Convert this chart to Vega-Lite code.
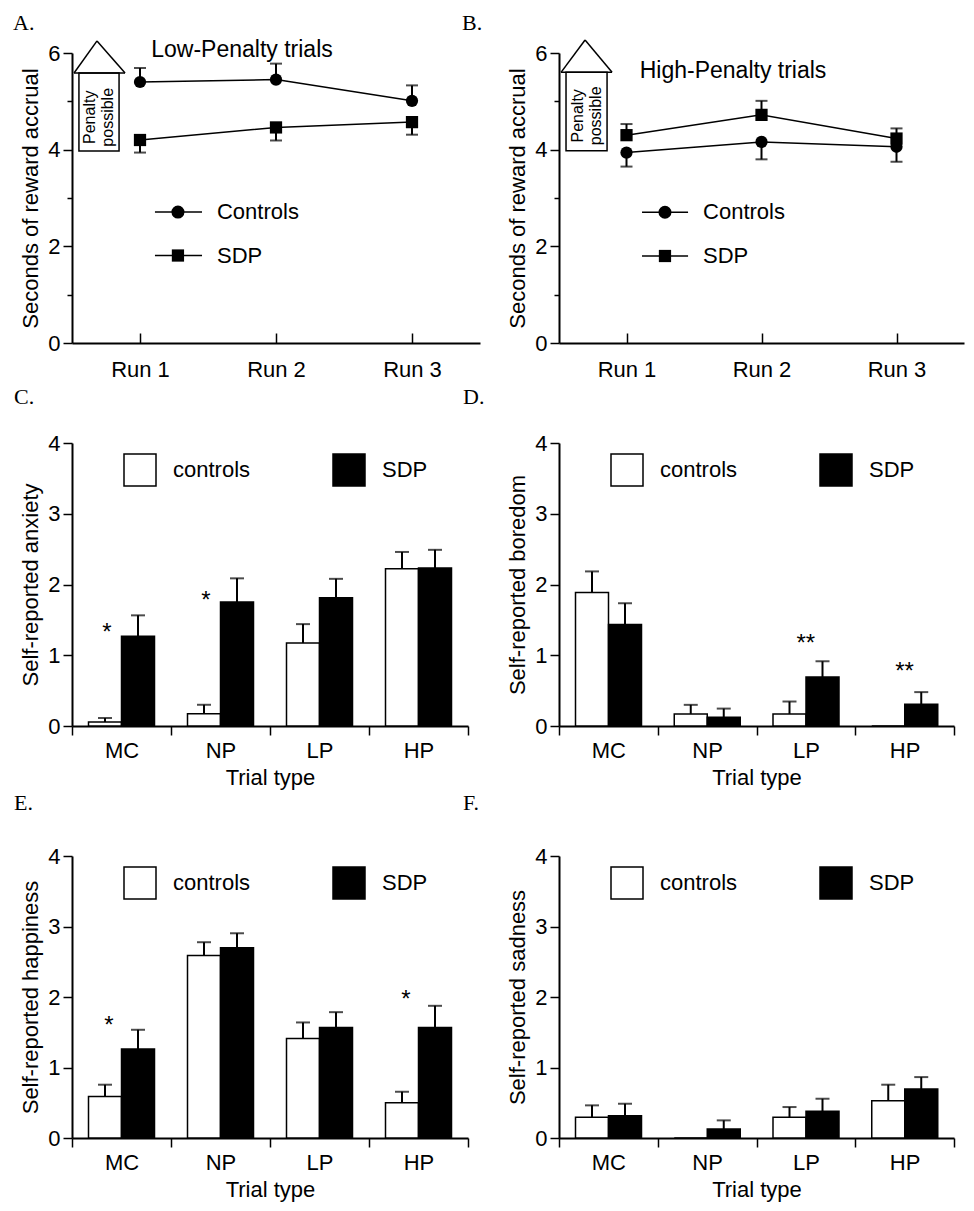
{
  "$schema": "https://vega.github.io/schema/vega-lite/v6.json",
  "padding": {"left": 13, "top": 12, "right": 5, "bottom": 5},
  "columns": 2,
  "spacing": {"row": 100, "column": 79},
  "bounds": "flush",
  "resolve": {"scale": {"fill": "independent"}, "legend": {"fill": "independent"}},
  "config": {
    "view": {"stroke": null},
    "font": "Liberation Sans",
    "axis": {"domainColor": "black", "domainWidth": 2, "tickColor": "black", "tickWidth": 1.5, "labelFont": "Liberation Sans", "labelFontSize": 22, "labelColor": "black", "titleFont": "Liberation Sans", "titleFontSize": 22, "titleFontWeight": "normal", "titleColor": "black", "grid": false, "labelPadding": 3, "titlePadding": 5},
    "title": {"font": "Liberation Serif", "fontSize": 22, "fontWeight": "normal", "color": "black", "anchor": "start", "frame": "group"},
    "text": {"font": "Liberation Sans", "color": "black"}
  },
  "datasets": {
    "runs": [
      {"panel": "A", "group": "Controls", "run": 1, "mean": 5.40, "err": 5.69},
      {"panel": "A", "group": "Controls", "run": 2, "mean": 5.45, "err": 5.78},
      {"panel": "A", "group": "Controls", "run": 3, "mean": 5.01, "err": 5.33},
      {"panel": "A", "group": "SDP", "run": 1, "mean": 4.20, "err": 3.94},
      {"panel": "A", "group": "SDP", "run": 2, "mean": 4.46, "err": 4.19},
      {"panel": "A", "group": "SDP", "run": 3, "mean": 4.57, "err": 4.31},
      {"panel": "B", "group": "Controls", "run": 1, "mean": 3.94, "err": 3.65},
      {"panel": "B", "group": "Controls", "run": 2, "mean": 4.16, "err": 3.80},
      {"panel": "B", "group": "Controls", "run": 3, "mean": 4.06, "err": 3.75},
      {"panel": "B", "group": "SDP", "run": 1, "mean": 4.30, "err": 4.53},
      {"panel": "B", "group": "SDP", "run": 2, "mean": 4.72, "err": 5.01},
      {"panel": "B", "group": "SDP", "run": 3, "mean": 4.23, "err": 4.44}
    ],
    "bars": [
      {"panel": "C", "cat": "MC", "group": "controls", "value": 0.057, "err": 0.113},
      {"panel": "C", "cat": "MC", "group": "SDP", "value": 1.267, "err": 1.564},
      {"panel": "C", "cat": "NP", "group": "controls", "value": 0.174, "err": 0.30},
      {"panel": "C", "cat": "NP", "group": "SDP", "value": 1.753, "err": 2.087},
      {"panel": "C", "cat": "LP", "group": "controls", "value": 1.173, "err": 1.44},
      {"panel": "C", "cat": "LP", "group": "SDP", "value": 1.814, "err": 2.08},
      {"panel": "C", "cat": "HP", "group": "controls", "value": 2.224, "err": 2.46},
      {"panel": "C", "cat": "HP", "group": "SDP", "value": 2.233, "err": 2.49},
      {"panel": "D", "cat": "MC", "group": "controls", "value": 1.886, "err": 2.185},
      {"panel": "D", "cat": "MC", "group": "SDP", "value": 1.436, "err": 1.735},
      {"panel": "D", "cat": "NP", "group": "controls", "value": 0.171, "err": 0.299},
      {"panel": "D", "cat": "NP", "group": "SDP", "value": 0.123, "err": 0.246},
      {"panel": "D", "cat": "LP", "group": "controls", "value": 0.171, "err": 0.346},
      {"panel": "D", "cat": "LP", "group": "SDP", "value": 0.692, "err": 0.915},
      {"panel": "D", "cat": "HP", "group": "controls", "value": 0, "err": null},
      {"panel": "D", "cat": "HP", "group": "SDP", "value": 0.308, "err": 0.479},
      {"panel": "E", "cat": "MC", "group": "controls", "value": 0.590, "err": 0.756},
      {"panel": "E", "cat": "MC", "group": "SDP", "value": 1.261, "err": 1.535},
      {"panel": "E", "cat": "NP", "group": "controls", "value": 2.588, "err": 2.777},
      {"panel": "E", "cat": "NP", "group": "SDP", "value": 2.697, "err": 2.904},
      {"panel": "E", "cat": "LP", "group": "controls", "value": 1.412, "err": 1.639},
      {"panel": "E", "cat": "LP", "group": "SDP", "value": 1.568, "err": 1.785},
      {"panel": "E", "cat": "HP", "group": "controls", "value": 0.501, "err": 0.656},
      {"panel": "E", "cat": "HP", "group": "SDP", "value": 1.568, "err": 1.875},
      {"panel": "F", "cat": "MC", "group": "controls", "value": 0.293, "err": 0.463},
      {"panel": "F", "cat": "MC", "group": "SDP", "value": 0.316, "err": 0.486},
      {"panel": "F", "cat": "NP", "group": "controls", "value": 0, "err": null},
      {"panel": "F", "cat": "NP", "group": "SDP", "value": 0.128, "err": 0.25},
      {"panel": "F", "cat": "LP", "group": "controls", "value": 0.293, "err": 0.439},
      {"panel": "F", "cat": "LP", "group": "SDP", "value": 0.378, "err": 0.557},
      {"panel": "F", "cat": "HP", "group": "controls", "value": 0.529, "err": 0.756},
      {"panel": "F", "cat": "HP", "group": "SDP", "value": 0.694, "err": 0.864}
    ],
    "stars": [
      {"panel": "C", "cat": "MC", "group": "controls", "level": 1.40, "label": "*"},
      {"panel": "C", "cat": "NP", "group": "controls", "level": 1.85, "label": "*"},
      {"panel": "D", "cat": "LP", "level": 1.25, "label": "**"},
      {"panel": "D", "cat": "HP", "level": 0.844, "label": "**"},
      {"panel": "E", "cat": "MC", "group": "controls", "level": 1.676, "label": "*"},
      {"panel": "E", "cat": "HP", "group": "controls", "level": 2.04, "label": "*"}
    ]
  },
  "concat": [
    {
      "width": 408, "height": 290,
      "title": {"text": "A.", "dx": -59, "offset": 4},
      "layer": [
        {"data": {"name": "runs"}, "transform": [{"filter": "datum.panel === 'A'"}],
         "mark": {"type": "rule", "color": "black", "strokeWidth": 2},
         "encoding": {
           "x": {"field": "run", "type": "quantitative", "scale": {"domain": [0.5, 3.5], "nice": false, "zero": false},
                 "axis": {"values": [1, 2, 3], "labelExpr": "'Run ' + datum.value", "title": null, "tickSize": -10, "labelPadding": 26}},
           "y": {"field": "mean", "type": "quantitative", "scale": {"domain": [0, 6], "nice": false},
                 "axis": {"values": [0, 1, 2, 3, 4, 5, 6], "labelExpr": "datum.value % 2 === 0 ? '' + datum.value : ''", "title": "Seconds of reward accrual",
                          "tickSize": {"condition": {"test": "datum.value % 2 === 0", "value": 9}, "value": 5}}},
           "y2": {"field": "err"}}},
        {"data": {"name": "runs"}, "transform": [{"filter": "datum.panel === 'A'"}],
         "mark": {"type": "tick", "color": "black", "orient": "horizontal", "size": 12, "thickness": 2},
         "encoding": {"x": {"field": "run", "type": "quantitative"}, "y": {"field": "err", "type": "quantitative"}}},
        {"data": {"name": "runs"}, "transform": [{"filter": "datum.panel === 'A'"}],
         "mark": {"type": "line", "color": "black", "strokeWidth": 1.5},
         "encoding": {"x": {"field": "run", "type": "quantitative"}, "y": {"field": "mean", "type": "quantitative"}, "detail": {"field": "group", "type": "nominal"}}},
        {"data": {"name": "runs"}, "transform": [{"filter": "datum.panel === 'A'"}],
         "mark": {"type": "point", "filled": true, "color": "black", "opacity": 1, "size": 150},
         "encoding": {"x": {"field": "run", "type": "quantitative"}, "y": {"field": "mean", "type": "quantitative"},
                      "shape": {"field": "group", "type": "nominal", "scale": {"domain": ["Controls", "SDP"], "range": ["circle", "square"]}, "legend": null}}},
        {"data": {"values": [{}]}, "mark": {"type": "rect", "fill": "white", "stroke": "black", "strokeWidth": 1.5},
         "encoding": {"x": {"datum": 0.551, "type": "quantitative"}, "x2": {"datum": 0.846}, "y": {"datum": 3.97, "type": "quantitative"}, "y2": {"datum": 5.586}}},
        {"data": {"values": [{}]}, "mark": {"type": "rule", "color": "black", "strokeWidth": 1.5},
         "encoding": {"x": {"datum": 0.515, "type": "quantitative"}, "x2": {"datum": 0.89}, "y": {"datum": 5.586, "type": "quantitative"}, "y2": {"datum": 5.586}}},
        {"data": {"values": [{}]}, "mark": {"type": "rule", "color": "black", "strokeWidth": 1.5},
         "encoding": {"x": {"datum": 0.515, "type": "quantitative"}, "x2": {"datum": 0.684}, "y": {"datum": 5.586, "type": "quantitative"}, "y2": {"datum": 6.25}}},
        {"data": {"values": [{}]}, "mark": {"type": "rule", "color": "black", "strokeWidth": 1.5},
         "encoding": {"x": {"datum": 0.684, "type": "quantitative"}, "x2": {"datum": 0.89}, "y": {"datum": 6.25, "type": "quantitative"}, "y2": {"datum": 5.586}}},
        {"data": {"values": [{}]}, "mark": {"type": "text", "text": "Penalty", "angle": 270, "align": "center", "baseline": "middle", "fontSize": 16},
         "encoding": {"x": {"datum": 0.632, "type": "quantitative"}, "y": {"datum": 4.67, "type": "quantitative"}}},
        {"data": {"values": [{}]}, "mark": {"type": "text", "text": "possible", "angle": 270, "align": "center", "baseline": "middle", "fontSize": 16},
         "encoding": {"x": {"datum": 0.767, "type": "quantitative"}, "y": {"datum": 4.67, "type": "quantitative"}}},
        {"data": {"values": [{}]}, "mark": {"type": "text", "text": "Low-Penalty trials", "align": "center", "baseline": "middle", "fontSize": 23},
         "encoding": {"x": {"datum": 1.75, "type": "quantitative"}, "y": {"datum": 6.06, "type": "quantitative"}}},
        {"data": {"values": [{}]}, "mark": {"type": "rule", "color": "black", "strokeWidth": 1.5},
         "encoding": {"x": {"datum": 1.11, "type": "quantitative"}, "x2": {"datum": 1.456}, "y": {"datum": 2.71, "type": "quantitative"}}},
        {"data": {"values": [{}]}, "mark": {"type": "rule", "color": "black", "strokeWidth": 1.5},
         "encoding": {"x": {"datum": 1.11, "type": "quantitative"}, "x2": {"datum": 1.456}, "y": {"datum": 1.81, "type": "quantitative"}}},
        {"data": {"values": [{}]}, "mark": {"type": "point", "filled": true, "color": "black", "opacity": 1, "size": 170, "shape": "circle"},
         "encoding": {"x": {"datum": 1.279, "type": "quantitative"}, "y": {"datum": 2.71, "type": "quantitative"}}},
        {"data": {"values": [{}]}, "mark": {"type": "point", "filled": true, "color": "black", "opacity": 1, "size": 150, "shape": "square"},
         "encoding": {"x": {"datum": 1.279, "type": "quantitative"}, "y": {"datum": 1.81, "type": "quantitative"}}},
        {"data": {"values": [{}]}, "mark": {"type": "text", "text": "Controls", "align": "left", "baseline": "middle", "fontSize": 22},
         "encoding": {"x": {"datum": 1.566, "type": "quantitative"}, "y": {"datum": 2.71, "type": "quantitative"}}},
        {"data": {"values": [{}]}, "mark": {"type": "text", "text": "SDP", "align": "left", "baseline": "middle", "fontSize": 22},
         "encoding": {"x": {"datum": 1.566, "type": "quantitative"}, "y": {"datum": 1.81, "type": "quantitative"}}}
      ]
    },
    {
      "width": 405, "height": 290,
      "title": {"text": "B.", "dx": -97, "offset": 4},
      "layer": [
        {"data": {"name": "runs"}, "transform": [{"filter": "datum.panel === 'B'"}],
         "mark": {"type": "rule", "color": "black", "strokeWidth": 2},
         "encoding": {
           "x": {"field": "run", "type": "quantitative", "scale": {"domain": [0.5, 3.5], "nice": false, "zero": false},
                 "axis": {"values": [1, 2, 3], "labelExpr": "'Run ' + datum.value", "title": null, "tickSize": -10, "labelPadding": 26}},
           "y": {"field": "mean", "type": "quantitative", "scale": {"domain": [0, 6], "nice": false},
                 "axis": {"values": [0, 1, 2, 3, 4, 5, 6], "labelExpr": "datum.value % 2 === 0 ? '' + datum.value : ''", "title": "Seconds of reward accrual",
                          "tickSize": {"condition": {"test": "datum.value % 2 === 0", "value": 9}, "value": 5}}},
           "y2": {"field": "err"}}},
        {"data": {"name": "runs"}, "transform": [{"filter": "datum.panel === 'B'"}],
         "mark": {"type": "tick", "color": "black", "orient": "horizontal", "size": 12, "thickness": 2},
         "encoding": {"x": {"field": "run", "type": "quantitative"}, "y": {"field": "err", "type": "quantitative"}}},
        {"data": {"name": "runs"}, "transform": [{"filter": "datum.panel === 'B'"}],
         "mark": {"type": "line", "color": "black", "strokeWidth": 1.5},
         "encoding": {"x": {"field": "run", "type": "quantitative"}, "y": {"field": "mean", "type": "quantitative"}, "detail": {"field": "group", "type": "nominal"}}},
        {"data": {"name": "runs"}, "transform": [{"filter": "datum.panel === 'B'"}],
         "mark": {"type": "point", "filled": true, "color": "black", "opacity": 1, "size": 150},
         "encoding": {"x": {"field": "run", "type": "quantitative"}, "y": {"field": "mean", "type": "quantitative"},
                      "shape": {"field": "group", "type": "nominal", "scale": {"domain": ["Controls", "SDP"], "range": ["circle", "square"]}, "legend": null}}},
        {"data": {"values": [{}]}, "mark": {"type": "rect", "fill": "white", "stroke": "black", "strokeWidth": 1.5},
         "encoding": {"x": {"datum": 0.552, "type": "quantitative"}, "x2": {"datum": 0.856}, "y": {"datum": 3.98, "type": "quantitative"}, "y2": {"datum": 5.60}}},
        {"data": {"values": [{}]}, "mark": {"type": "rule", "color": "black", "strokeWidth": 1.5},
         "encoding": {"x": {"datum": 0.515, "type": "quantitative"}, "x2": {"datum": 0.893}, "y": {"datum": 5.60, "type": "quantitative"}, "y2": {"datum": 5.60}}},
        {"data": {"values": [{}]}, "mark": {"type": "rule", "color": "black", "strokeWidth": 1.5},
         "encoding": {"x": {"datum": 0.515, "type": "quantitative"}, "x2": {"datum": 0.693}, "y": {"datum": 5.60, "type": "quantitative"}, "y2": {"datum": 6.27}}},
        {"data": {"values": [{}]}, "mark": {"type": "rule", "color": "black", "strokeWidth": 1.5},
         "encoding": {"x": {"datum": 0.693, "type": "quantitative"}, "x2": {"datum": 0.893}, "y": {"datum": 6.27, "type": "quantitative"}, "y2": {"datum": 5.60}}},
        {"data": {"values": [{}]}, "mark": {"type": "text", "text": "Penalty", "angle": 270, "align": "center", "baseline": "middle", "fontSize": 16},
         "encoding": {"x": {"datum": 0.64, "type": "quantitative"}, "y": {"datum": 4.70, "type": "quantitative"}}},
        {"data": {"values": [{}]}, "mark": {"type": "text", "text": "possible", "angle": 270, "align": "center", "baseline": "middle", "fontSize": 16},
         "encoding": {"x": {"datum": 0.775, "type": "quantitative"}, "y": {"datum": 4.70, "type": "quantitative"}}},
        {"data": {"values": [{}]}, "mark": {"type": "text", "text": "High-Penalty trials", "align": "center", "baseline": "middle", "fontSize": 23},
         "encoding": {"x": {"datum": 1.789, "type": "quantitative"}, "y": {"datum": 5.625, "type": "quantitative"}}},
        {"data": {"values": [{}]}, "mark": {"type": "rule", "color": "black", "strokeWidth": 1.5},
         "encoding": {"x": {"datum": 1.115, "type": "quantitative"}, "x2": {"datum": 1.456}, "y": {"datum": 2.705, "type": "quantitative"}}},
        {"data": {"values": [{}]}, "mark": {"type": "rule", "color": "black", "strokeWidth": 1.5},
         "encoding": {"x": {"datum": 1.115, "type": "quantitative"}, "x2": {"datum": 1.456}, "y": {"datum": 1.80, "type": "quantitative"}}},
        {"data": {"values": [{}]}, "mark": {"type": "point", "filled": true, "color": "black", "opacity": 1, "size": 170, "shape": "circle"},
         "encoding": {"x": {"datum": 1.285, "type": "quantitative"}, "y": {"datum": 2.705, "type": "quantitative"}}},
        {"data": {"values": [{}]}, "mark": {"type": "point", "filled": true, "color": "black", "opacity": 1, "size": 150, "shape": "square"},
         "encoding": {"x": {"datum": 1.285, "type": "quantitative"}, "y": {"datum": 1.80, "type": "quantitative"}}},
        {"data": {"values": [{}]}, "mark": {"type": "text", "text": "Controls", "align": "left", "baseline": "middle", "fontSize": 22},
         "encoding": {"x": {"datum": 1.567, "type": "quantitative"}, "y": {"datum": 2.705, "type": "quantitative"}}},
        {"data": {"values": [{}]}, "mark": {"type": "text", "text": "SDP", "align": "left", "baseline": "middle", "fontSize": 22},
         "encoding": {"x": {"datum": 1.567, "type": "quantitative"}, "y": {"datum": 1.80, "type": "quantitative"}}}
      ]
    },
    {
      "width": 396, "height": 283,
      "title": {"text": "C.", "dx": -58, "offset": 23},
      "layer": [
        {"data": {"name": "bars"}, "transform": [{"filter": "datum.panel === 'C'"}],
         "mark": {"type": "bar", "stroke": "black", "strokeWidth": 1.5},
         "encoding": {
           "x": {"field": "cat", "type": "nominal", "sort": null, "scale": {"domain": ["MC", "NP", "LP", "HP"], "paddingInner": 0, "paddingOuter": 0},
                 "axis": {"title": "Trial type", "labelAngle": 0, "tickBand": "extent", "tickSize": 9, "labelPadding": 5, "titlePadding": 6}},
           "xOffset": {"field": "group", "type": "nominal", "scale": {"domain": ["controls", "SDP"], "paddingInner": 0, "paddingOuter": 0.5}},
           "y": {"field": "value", "type": "quantitative", "scale": {"domain": [0, 4], "nice": false},
                 "axis": {"values": [0, 0.5, 1, 1.5, 2, 2.5, 3, 3.5, 4], "labelExpr": "datum.value % 1 === 0 ? '' + datum.value : ''", "title": "Self-reported anxiety",
                          "tickSize": {"condition": {"test": "datum.value % 1 === 0", "value": 9}, "value": 5}}},
           "fill": {"field": "group", "type": "nominal", "scale": {"domain": ["controls", "SDP"], "range": ["white", "black"]},
                    "legend": {"orient": "none", "legendX": 51, "legendY": 10, "direction": "horizontal", "title": null, "symbolType": "square", "symbolSize": 1024, "symbolStrokeColor": "black", "symbolStrokeWidth": 1.5, "symbolOpacity": 1, "labelFontSize": 22, "labelFont": "Liberation Sans", "labelColor": "black", "labelOffset": 16, "columnPadding": 79, "padding": 0}}}},
        {"data": {"name": "bars"}, "transform": [{"filter": "datum.panel === 'C'"}],
         "mark": {"type": "rule", "color": "black", "strokeWidth": 2},
         "encoding": {"x": {"field": "cat", "type": "nominal"}, "xOffset": {"field": "group", "type": "nominal"}, "y": {"field": "value", "type": "quantitative"}, "y2": {"field": "err"}}},
        {"data": {"name": "bars"}, "transform": [{"filter": "datum.panel === 'C'"}],
         "mark": {"type": "tick", "color": "black", "orient": "horizontal", "size": 14, "thickness": 2},
         "encoding": {"x": {"field": "cat", "type": "nominal"}, "xOffset": {"field": "group", "type": "nominal"}, "y": {"field": "err", "type": "quantitative"}}},
        {"data": {"name": "stars"}, "transform": [{"filter": "datum.panel === 'C'"}],
         "mark": {"type": "text", "fontSize": 24, "align": "center", "baseline": "middle", "dy": 6, "dx": 2},
         "encoding": {"x": {"field": "cat", "type": "nominal"}, "xOffset": {"field": "group", "type": "nominal"}, "y": {"field": "level", "type": "quantitative"}, "text": {"field": "label"}}}
      ]
    },
    {
      "width": 395, "height": 283,
      "title": {"text": "D.", "dx": -96, "offset": 23},
      "layer": [
        {"data": {"name": "bars"}, "transform": [{"filter": "datum.panel === 'D'"}],
         "mark": {"type": "bar", "stroke": "black", "strokeWidth": 1.5},
         "encoding": {
           "x": {"field": "cat", "type": "nominal", "sort": null, "scale": {"domain": ["MC", "NP", "LP", "HP"], "paddingInner": 0, "paddingOuter": 0},
                 "axis": {"title": "Trial type", "labelAngle": 0, "tickBand": "extent", "tickSize": 9, "labelPadding": 5, "titlePadding": 6}},
           "xOffset": {"field": "group", "type": "nominal", "scale": {"domain": ["controls", "SDP"], "paddingInner": 0, "paddingOuter": 0.5}},
           "y": {"field": "value", "type": "quantitative", "scale": {"domain": [0, 4], "nice": false},
                 "axis": {"values": [0, 0.5, 1, 1.5, 2, 2.5, 3, 3.5, 4], "labelExpr": "datum.value % 1 === 0 ? '' + datum.value : ''", "title": "Self-reported boredom",
                          "tickSize": {"condition": {"test": "datum.value % 1 === 0", "value": 9}, "value": 5}}},
           "fill": {"field": "group", "type": "nominal", "scale": {"domain": ["controls", "SDP"], "range": ["white", "black"]},
                    "legend": {"orient": "none", "legendX": 51, "legendY": 10, "direction": "horizontal", "title": null, "symbolType": "square", "symbolSize": 1024, "symbolStrokeColor": "black", "symbolStrokeWidth": 1.5, "symbolOpacity": 1, "labelFontSize": 22, "labelFont": "Liberation Sans", "labelColor": "black", "labelOffset": 16, "columnPadding": 79, "padding": 0}}}},
        {"data": {"name": "bars"}, "transform": [{"filter": "datum.panel === 'D'"}],
         "mark": {"type": "rule", "color": "black", "strokeWidth": 2},
         "encoding": {"x": {"field": "cat", "type": "nominal"}, "xOffset": {"field": "group", "type": "nominal"}, "y": {"field": "value", "type": "quantitative"}, "y2": {"field": "err"}}},
        {"data": {"name": "bars"}, "transform": [{"filter": "datum.panel === 'D'"}],
         "mark": {"type": "tick", "color": "black", "orient": "horizontal", "size": 14, "thickness": 2},
         "encoding": {"x": {"field": "cat", "type": "nominal"}, "xOffset": {"field": "group", "type": "nominal"}, "y": {"field": "err", "type": "quantitative"}}},
        {"data": {"name": "stars"}, "transform": [{"filter": "datum.panel === 'D'"}],
         "mark": {"type": "text", "fontSize": 24, "align": "center", "baseline": "middle", "dy": 6},
         "encoding": {"x": {"field": "cat", "type": "nominal"}, "y": {"field": "level", "type": "quantitative"}, "text": {"field": "label"}}}
      ]
    },
    {
      "width": 396, "height": 312,
      "title": {"text": "E.", "dx": -58, "offset": 11},
      "layer": [
        {"data": {"name": "bars"}, "transform": [{"filter": "datum.panel === 'E'"}],
         "mark": {"type": "bar", "stroke": "black", "strokeWidth": 1.5},
         "encoding": {
           "x": {"field": "cat", "type": "nominal", "sort": null, "scale": {"domain": ["MC", "NP", "LP", "HP"], "paddingInner": 0, "paddingOuter": 0},
                 "axis": {"title": "Trial type", "labelAngle": 0, "tickBand": "extent", "tickSize": 9, "labelPadding": 5, "titlePadding": 6}},
           "xOffset": {"field": "group", "type": "nominal", "scale": {"domain": ["controls", "SDP"], "paddingInner": 0, "paddingOuter": 0.5}},
           "y": {"field": "value", "type": "quantitative", "scale": {"domain": [0, 4], "nice": false, "range": [312, 30]},
                 "axis": {"values": [0, 0.5, 1, 1.5, 2, 2.5, 3, 3.5, 4], "labelExpr": "datum.value % 1 === 0 ? '' + datum.value : ''", "title": "Self-reported happiness",
                          "tickSize": {"condition": {"test": "datum.value % 1 === 0", "value": 9}, "value": 5}}},
           "fill": {"field": "group", "type": "nominal", "scale": {"domain": ["controls", "SDP"], "range": ["white", "black"]},
                    "legend": {"orient": "none", "legendX": 51, "legendY": 40, "direction": "horizontal", "title": null, "symbolType": "square", "symbolSize": 1024, "symbolStrokeColor": "black", "symbolStrokeWidth": 1.5, "symbolOpacity": 1, "labelFontSize": 22, "labelFont": "Liberation Sans", "labelColor": "black", "labelOffset": 16, "columnPadding": 79, "padding": 0}}}},
        {"data": {"name": "bars"}, "transform": [{"filter": "datum.panel === 'E'"}],
         "mark": {"type": "rule", "color": "black", "strokeWidth": 2},
         "encoding": {"x": {"field": "cat", "type": "nominal"}, "xOffset": {"field": "group", "type": "nominal"}, "y": {"field": "value", "type": "quantitative"}, "y2": {"field": "err"}}},
        {"data": {"name": "bars"}, "transform": [{"filter": "datum.panel === 'E'"}],
         "mark": {"type": "tick", "color": "black", "orient": "horizontal", "size": 14, "thickness": 2},
         "encoding": {"x": {"field": "cat", "type": "nominal"}, "xOffset": {"field": "group", "type": "nominal"}, "y": {"field": "err", "type": "quantitative"}}},
        {"data": {"name": "stars"}, "transform": [{"filter": "datum.panel === 'E'"}],
         "mark": {"type": "text", "fontSize": 24, "align": "center", "baseline": "middle", "dy": 6, "dx": 4},
         "encoding": {"x": {"field": "cat", "type": "nominal"}, "xOffset": {"field": "group", "type": "nominal"}, "y": {"field": "level", "type": "quantitative"}, "text": {"field": "label"}}}
      ]
    },
    {
      "width": 395, "height": 312,
      "title": {"text": "F.", "dx": -96, "offset": 11},
      "layer": [
        {"data": {"name": "bars"}, "transform": [{"filter": "datum.panel === 'F'"}],
         "mark": {"type": "bar", "stroke": "black", "strokeWidth": 1.5},
         "encoding": {
           "x": {"field": "cat", "type": "nominal", "sort": null, "scale": {"domain": ["MC", "NP", "LP", "HP"], "paddingInner": 0, "paddingOuter": 0},
                 "axis": {"title": "Trial type", "labelAngle": 0, "tickBand": "extent", "tickSize": 9, "labelPadding": 5, "titlePadding": 6}},
           "xOffset": {"field": "group", "type": "nominal", "scale": {"domain": ["controls", "SDP"], "paddingInner": 0, "paddingOuter": 0.5}},
           "y": {"field": "value", "type": "quantitative", "scale": {"domain": [0, 4], "nice": false, "range": [312, 30]},
                 "axis": {"values": [0, 0.5, 1, 1.5, 2, 2.5, 3, 3.5, 4], "labelExpr": "datum.value % 1 === 0 ? '' + datum.value : ''", "title": "Self-reported sadness",
                          "tickSize": {"condition": {"test": "datum.value % 1 === 0", "value": 9}, "value": 5}}},
           "fill": {"field": "group", "type": "nominal", "scale": {"domain": ["controls", "SDP"], "range": ["white", "black"]},
                    "legend": {"orient": "none", "legendX": 51, "legendY": 40, "direction": "horizontal", "title": null, "symbolType": "square", "symbolSize": 1024, "symbolStrokeColor": "black", "symbolStrokeWidth": 1.5, "symbolOpacity": 1, "labelFontSize": 22, "labelFont": "Liberation Sans", "labelColor": "black", "labelOffset": 16, "columnPadding": 79, "padding": 0}}}},
        {"data": {"name": "bars"}, "transform": [{"filter": "datum.panel === 'F'"}],
         "mark": {"type": "rule", "color": "black", "strokeWidth": 2},
         "encoding": {"x": {"field": "cat", "type": "nominal"}, "xOffset": {"field": "group", "type": "nominal"}, "y": {"field": "value", "type": "quantitative"}, "y2": {"field": "err"}}},
        {"data": {"name": "bars"}, "transform": [{"filter": "datum.panel === 'F'"}],
         "mark": {"type": "tick", "color": "black", "orient": "horizontal", "size": 14, "thickness": 2},
         "encoding": {"x": {"field": "cat", "type": "nominal"}, "xOffset": {"field": "group", "type": "nominal"}, "y": {"field": "err", "type": "quantitative"}}}
      ]
    }
  ]
}
